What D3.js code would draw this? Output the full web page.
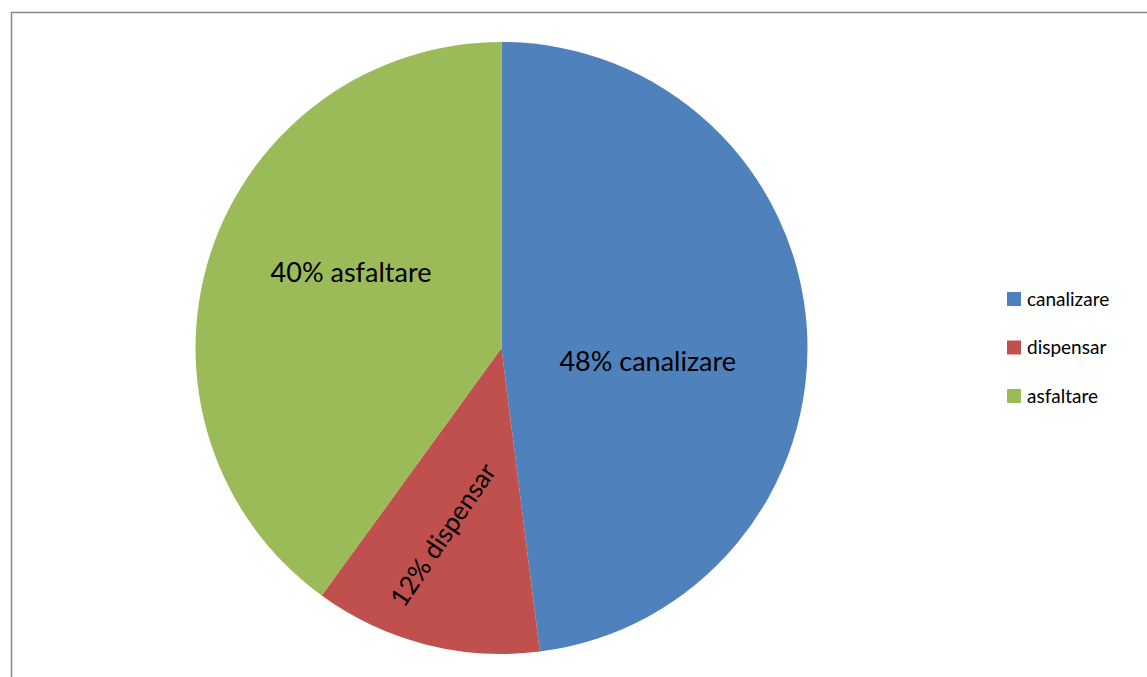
<!DOCTYPE html>
<html>
<head>
<meta charset="utf-8">
<script src="https://cdn.jsdelivr.net/npm/d3@7"></script>
<style>
  body { margin: 0; background: #fff; }
  svg { display: block; font-family: Lato, "Open Sans", sans-serif; }
</style>
</head>
<body>
<div class="pieChart"></div>
<script>
// data
var categories = ["canalizare", "dispensar", "asfaltare"];
var values = [48, 12, 40];
var sliceColors = ["#4f81bd", "#c0504d", "#9bbb59"];

var svgWidth = 1147;
var svgHeight = 677;

var svg = d3.select(".pieChart")
  .append("svg")
  .attr("width", svgWidth)
  .attr("height", svgHeight);

// chart area border (runs off the right and bottom edges)
svg.append("rect")
  .attr("x", 11.5)
  .attr("y", 12.5)
  .attr("width", 1200)
  .attr("height", 700)
  .attr("fill", "none")
  .attr("stroke", "#868686")
  .attr("stroke-width", 1.5);

var cx = 501.5, cy = 348, radius = 306;

var color = d3.scaleOrdinal().domain(categories).range(sliceColors);

var pie = d3.pie().sort(null).value(function(d, i) { return values[i]; });
var arcs = pie(categories);

var arc = d3.arc().innerRadius(0).outerRadius(radius);

var g = svg.append("g")
  .attr("transform", "translate(" + cx + "," + cy + ")");

g.selectAll("path")
  .data(arcs)
  .enter().append("path")
  .attr("d", arc)
  .attr("fill", function(d) { return color(d.data); });

// label placement: angle offset (deg) and radius fraction, rotation
var labelLayout = {
  canalizare: { dAngle: 9, r: 0.48, rotate: 0, size: 27 },
  dispensar: { dAngle: 3, r: 0.64, rotate: -56, size: 26 },
  asfaltare: { dAngle: 8.6, r: 0.55, rotate: 0, size: 27 }
};

var total = d3.sum(values);

g.selectAll("text.lbl")
  .data(arcs)
  .enter().append("text")
  .attr("class", "lbl")
  .attr("transform", function(d) {
    var L = labelLayout[d.data];
    var a = (d.startAngle + d.endAngle) / 2 + L.dAngle * Math.PI / 180;
    var r = L.r * radius;
    var x = Math.sin(a) * r, y = -Math.cos(a) * r;
    return "translate(" + x + "," + y + ") rotate(" + L.rotate + ")";
  })
  .attr("text-anchor", "middle")
  .attr("dy", "0.35em")
  .style("font-size", function(d) { return labelLayout[d.data].size + "px"; })
  .attr("fill", "#000")
  .text(function(d, i) { return Math.round(values[i] / total * 100) + "% " + d.data; });

// legend
var legend = svg.append("g")
  .attr("transform", "translate(1007,292)");

var rows = legend.selectAll("g")
  .data(categories)
  .enter().append("g")
  .attr("transform", function(d, i) { return "translate(0," + (i * 48.5) + ")"; });

rows.append("rect")
  .attr("width", 14)
  .attr("height", 14)
  .attr("fill", function(d) { return color(d); });

rows.append("text")
  .attr("x", 20)
  .attr("y", 7)
  .attr("dy", "0.35em")
  .style("font-size", "19px")
  .attr("fill", "#000")
  .text(function(d) { return d; });
</script>
</body>
</html>
